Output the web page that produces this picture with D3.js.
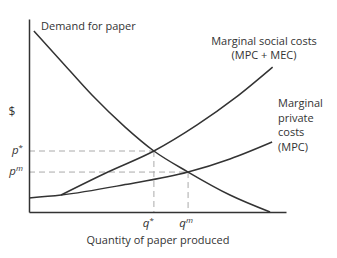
<!DOCTYPE html>
<html>
<head>
<meta charset="utf-8">
<script src="https://cdn.jsdelivr.net/npm/d3@7"></script>
<style>
  body { margin: 0; background: #fff; }
  text { font-family: "Open Sans", Roboto, sans-serif; fill: #333; }
</style>
</head>
<body>
<div id="chart"></div>
<script>
// curves (quantity, price on 0..100 scales)
var demandQ = [1.9, 12.1, 24.5, 37.4, 48.6, 61.9, 78.2, 93.8];
var demandP = [93.8, 78.8, 60.6, 44.0, 31.6, 20.7, 8.8, 0];

var mpcQ = [0, 12.5, 37.4, 61.9, 78.2, 94.6];
var mpcP = [7.3, 8.8, 14.2, 20.7, 27.5, 36.3];

var mscQ = [12.5, 30.7, 48.6, 65.4, 80.2, 94.8];
var mscP = [8.8, 20.7, 31.6, 45.1, 59.1, 75.1];

// equilibrium points
var qStar = 48.6, pStar = 31.6;
var qM = 61.9, pM = 20.7;

var w = 337, h = 258;

var xScale = d3.scaleLinear().domain([0, 100]).range([29, 286]);
var yScale = d3.scaleLinear().domain([0, 100]).range([212, 19]);

var svg = d3.select("#chart").append("svg")
    .attr("width", w)
    .attr("height", h);

function pts(qs, ps) {
    return qs.map(function(q, i) { return [q, ps[i]]; });
}

var line = d3.line()
    .x(function(d) { return xScale(d[0]); })
    .y(function(d) { return yScale(d[1]); })
    .curve(d3.curveMonotoneX);

// dashed guides
var dash = svg.append("g")
    .attr("stroke", "#aaa")
    .attr("stroke-width", 1)
    .attr("stroke-dasharray", "6,4");

[[qStar, pStar], [qM, pM]].forEach(function(e) {
    dash.append("line")
        .attr("x1", xScale(0)).attr("x2", xScale(e[0]))
        .attr("y1", yScale(e[1])).attr("y2", yScale(e[1]));
    dash.append("line")
        .attr("x1", xScale(e[0])).attr("x2", xScale(e[0]))
        .attr("y1", yScale(e[1])).attr("y2", yScale(0));
});

// curves
[pts(demandQ, demandP), pts(mpcQ, mpcP), pts(mscQ, mscP)].forEach(function(d) {
    svg.append("path")
        .datum(d)
        .attr("d", line)
        .attr("fill", "none")
        .attr("stroke", "#333")
        .attr("stroke-width", 1.5);
});

// axes
var xAxis = d3.axisBottom(xScale).tickValues([]).tickSizeOuter(0);
var yAxis = d3.axisLeft(yScale).tickValues([]).tickSizeOuter(0);

svg.append("g")
    .attr("transform", "translate(0," + yScale(0) + ")")
    .call(xAxis)
    .select(".domain").attr("stroke", "#333").attr("stroke-width", 1.5);

svg.append("g")
    .attr("transform", "translate(" + xScale(0) + ",0)")
    .call(yAxis)
    .select(".domain").attr("stroke", "#333").attr("stroke-width", 1.5);

// price / quantity labels
function markLabel(x, y, base, sup, anchor) {
    var t = svg.append("text")
        .attr("x", x).attr("y", y)
        .attr("text-anchor", anchor)
        .attr("font-size", 11.5);
    t.append("tspan").attr("font-style", "italic").text(base);
    t.append("tspan").attr("font-size", 8).attr("dy", -4)
        .attr("font-style", sup === "*" ? "normal" : "italic").text(sup);
}
markLabel(23, yScale(pStar) + 3, "p", "*", "end");
markLabel(23, yScale(pM) + 3, "p", "m", "end");
markLabel(xScale(qStar) + 0, 227, "q", "*", "end");
markLabel(xScale(qM) - 2, 227, "q", "m", "middle");

svg.append("text")
    .attr("x", 12).attr("y", 116)
    .attr("text-anchor", "middle")
    .attr("font-size", 12)
    .text("$");

svg.append("text")
    .attr("x", 158).attr("y", 244)
    .attr("text-anchor", "middle")
    .attr("font-size", 11)
    .text("Quantity of paper produced");

svg.append("text")
    .attr("x", 41).attr("y", 30)
    .attr("font-size", 11)
    .text("Demand for paper");

var msc = svg.append("text")
    .attr("text-anchor", "middle")
    .attr("font-size", 11);
msc.append("tspan").attr("x", 264).attr("y", 44.5).text("Marginal social costs");
msc.append("tspan").attr("x", 264).attr("y", 59.2).text("(MPC + MEC)");

var mpcLabel = svg.append("text").attr("font-size", 11);
["Marginal", "private", "costs", "(MPC)"].forEach(function(s, i) {
    mpcLabel.append("tspan").attr("x", 278).attr("y", 107 + i * 14.7).text(s);
});
</script>
</body>
</html>
